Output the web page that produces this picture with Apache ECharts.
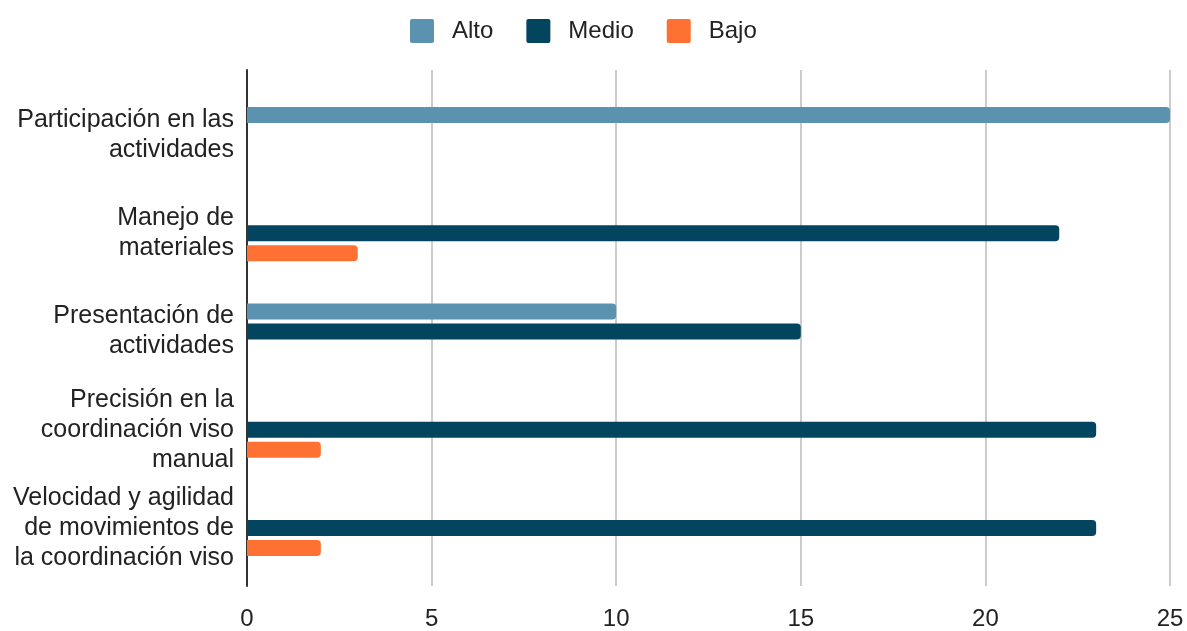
<!DOCTYPE html>
<html>
<head>
<meta charset="utf-8">
<script src="https://cdn.jsdelivr.net/npm/echarts@6/dist/echarts.min.js"></script>
<style>html,body{margin:0;padding:0;background:#fff}#c{width:1187px;height:631px}</style>
</head>
<body>
<div id="c"></div>
<script>
var categories = [
  "Participación en las\nactividades",
  "Manejo de\nmateriales",
  "Presentación de\nactividades",
  "Precisión en la\ncoordinación viso\nmanual",
  "Velocidad y agilidad\nde movimientos de\nla coordinación viso"
];
var seriesNames = ["Alto", "Medio", "Bajo"];
var alto = [25, 0, 10, 0, 0];
var medio = [0, 22, 15, 23, 23];
var bajo = [0, 3, 0, 2, 2];
var xTicks = [0, 5, 10, 15, 20, 25];

var colors = ["#5a92b0", "#03455f", "#ff7033"];
var font = "'Liberation Sans', Arial, sans-serif";
var chart = echarts.init(document.getElementById('c'), null, {renderer: 'canvas'});
var xMin = xTicks[0], xMax = xTicks[xTicks.length - 1], xStep = xTicks[1] - xTicks[0];

function mk(name, data, i) {
  return {
    name: name, type: 'bar', data: data, xAxisIndex: 1, yAxisIndex: 1,
    barWidth: 16, barGap: '25%',
    itemStyle: {color: colors[i], borderRadius: [0, 4, 4, 0]}
  };
}

chart.setOption({
  animation: false,
  color: colors,
  textStyle: {fontFamily: font},
  legend: {
    top: 14, left: 405,
    itemWidth: 24, itemHeight: 24, itemGap: 33,
    icon: 'path://M2,0H22Q24,0 24,2V22Q24,24 22,24H2Q0,24 0,22V2Q0,0 2,0Z',
    textStyle: {fontSize: 24, lineHeight: 24, color: '#222', fontFamily: font, padding: [0, 0, 0, 13]},
    data: seriesNames
  },
  grid: [
    {left: 247, right: 17, top: 70, bottom: 39},
    {left: 247, right: 17, top: 86, bottom: 54}
  ],
  xAxis: [
    {gridIndex: 0, type: 'value', min: xMin, max: xMax, interval: xStep,
     axisLine: {show: false}, axisTick: {show: false},
     splitLine: {lineStyle: {color: '#cccccc', width: 2}},
     axisLabel: {fontSize: 24, lineHeight: 24, color: '#222', margin: 21, fontFamily: font}},
    {gridIndex: 1, type: 'value', min: xMin, max: xMax, interval: xStep, show: false}
  ],
  yAxis: [
    {gridIndex: 0, type: 'value', min: 0, max: 1,
     axisLine: {show: true, lineStyle: {color: '#333', width: 2}},
     axisTick: {show: false}, axisLabel: {show: false}, splitLine: {show: false}},
    {gridIndex: 1, type: 'category', data: categories, inverse: true,
     axisLine: {show: false}, axisTick: {show: false}, splitLine: {show: false},
     axisLabel: {fontSize: 25, lineHeight: 30, color: '#222', margin: 13, align: 'right', fontFamily: font}}
  ],
  series: [mk(seriesNames[0], alto, 0), mk(seriesNames[1], medio, 1), mk(seriesNames[2], bajo, 2)]
});
</script>
</body>
</html>
